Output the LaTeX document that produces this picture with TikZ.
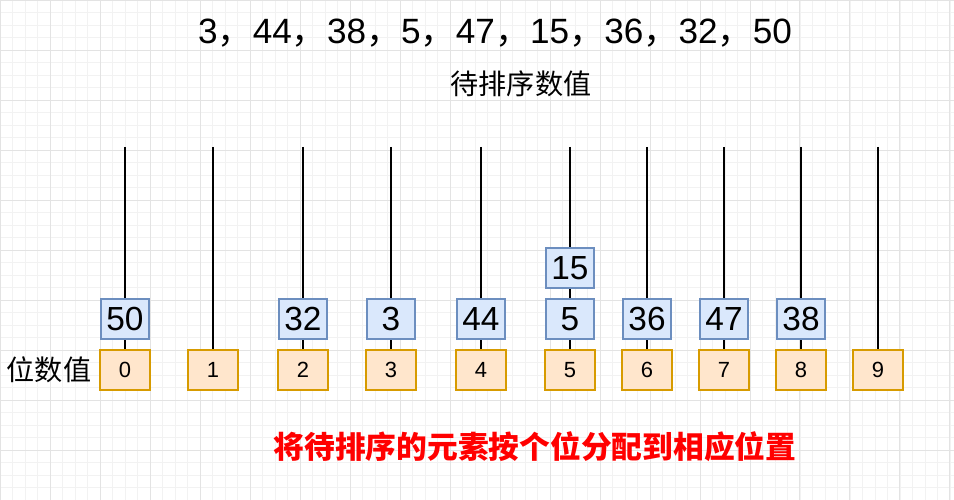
\documentclass[tikz,border=0pt]{standalone}
\usepackage{fontspec}
\setmainfont{Liberation Sans}
\newfontfamily\cjk{Noto Sans CJK SC}
\usetikzlibrary{calc}
\definecolor{keyfill}{HTML}{DAE8FC}
\definecolor{keyline}{HTML}{6C8EBF}
\definecolor{digitfill}{HTML}{FFE6CC}
\definecolor{digitline}{HTML}{D79B00}
\begin{document}
\begin{tikzpicture}[x=0.02cm, y=-0.02cm,
  digitbox/.style={draw=digitline, fill=digitfill, line width=0.6pt, minimum width=1cm, minimum height=0.8cm, font=\fontsize{12.5}{12.5}\selectfont},
  keybox/.style={draw=keyline, fill=keyfill, line width=1pt, minimum width=0.96cm, minimum height=0.8cm, inner sep=1pt, font=\fontsize{19}{19}\selectfont}]
\useasboundingbox (0,0) rectangle (954,500);
\draw [step=0.25cm, color=gray!10, line width=0.3pt] (0,0) grid (954,500);
\draw [step=1cm, color=gray!22, line width=0.4pt] (0,0) grid (954,500);

\node [font=\fontsize{20}{20}\selectfont] (title) at (495, 33) {3{\cjk ，}44{\cjk ，}38{\cjk ，}5{\cjk ，}47{\cjk ，}15{\cjk ，}36{\cjk ，}32{\cjk ，}50};
\node [font=\cjk\fontsize{16}{16}\selectfont] (caption) at (521, 84) {待排序数值};
\node [font=\cjk\fontsize{16}{16}\selectfont] (digitlabel) at (49, 370) {位数值};
\node [font=\cjk\bfseries\fontsize{17.5}{17.5}\selectfont, text=red] (note) at (535, 447) {将待排序的元素按个位分配到相应位置};

% buckets
\foreach \d/\x in {0/125, 1/213, 2/303, 3/391, 4/481, 5/570, 6/647, 7/724, 8/801, 9/878} {
  \coordinate (top\d) at (\x, 147);
  \node [digitbox] (bucket\d) at (\x, 370) {\d};
  \draw [line width=1.2pt] (top\d) -- (bucket\d.north);
}

% keys
\foreach \d/\v in {0/50, 2/32, 3/3, 4/44, 5/5, 6/36, 7/47, 8/38}
  \node [keybox] (key\d) at ($(bucket\d)+(0,-51)$) {\v};
\node [keybox] (key5b) at ($(bucket5)+(0,-102)$) {15};
\end{tikzpicture}
\end{document}
